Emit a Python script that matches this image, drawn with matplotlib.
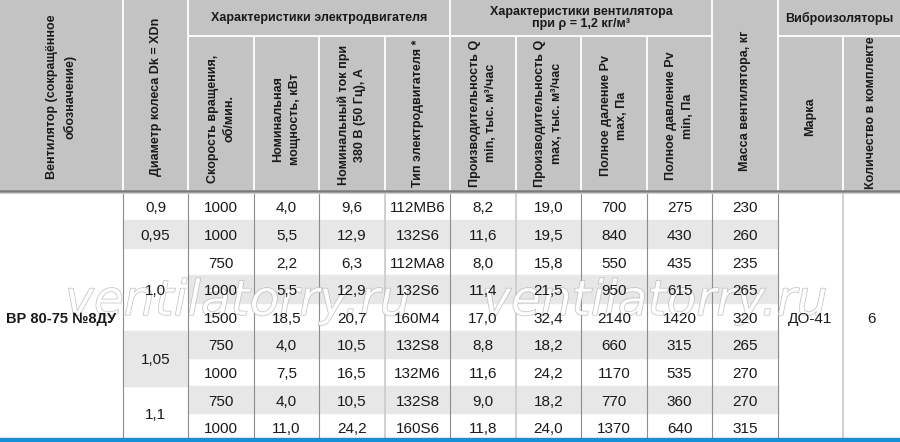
import matplotlib.pyplot as plt
import matplotlib.patheffects as pe
from matplotlib import font_manager
from matplotlib.patches import Rectangle

# ---- table data ----
fan_name = 'ВР 80-75 №8ДУ'
diam_labels = ['0,9', '0,95', '1,0', '1,05', '1,1']
diam_spans = [1, 1, 3, 2, 2]
speed = [1000, 1000, 750, 1000, 1500, 750, 1000, 750, 1000]
power = [4.0, 5.5, 2.2, 5.5, 18.5, 4.0, 7.5, 4.0, 11.0]
current = [9.6, 12.9, 6.3, 12.9, 20.7, 10.5, 16.5, 10.5, 24.2]
motor = ['112MB6', '132S6', '112MA8', '132S6', '160M4', '132S8', '132M6', '132S8', '160S6']
q_min = [8.2, 11.6, 8.0, 11.4, 17.0, 8.8, 11.6, 9.0, 11.8]
q_max = [19.0, 19.5, 15.8, 21.5, 32.4, 18.2, 24.2, 18.2, 24.0]
pv_max = [700, 840, 550, 950, 2140, 660, 1170, 770, 1370]
pv_min = [275, 430, 435, 615, 1420, 315, 535, 360, 640]
mass = [230, 260, 235, 265, 320, 265, 270, 270, 315]
iso_mark = 'ДО-41'
iso_count = 6

col_headers = ['Вентилятор (сокращённое\nобозначение)',
               'Диаметр колеса Dk = XDn',
               'Скорость вращения,\nоб/мин.',
               'Номинальная\nмощность, кВт',
               'Номинальный ток при\n380 В (50 Гц), А',
               'Тип электродвигателя *',
               'Производительность Q\nmin, тыс. м³/час',
               'Производительность Q\nmax, тыс. м³/час',
               'Полное даление Pv\nmax, Па',
               'Полное давление Pv\nmin, Па',
               'Масса вентилятора, кг',
               'Марка',
               'Количество в комплекте']
group_headers = [('Характеристики электродвигателя', 2, 6),
                 ('Характеристики вентилятора\nпри ρ = 1,2 кг/м³', 6, 10),
                 ('Виброизоляторы', 11, 13)]


def fmt(v):
    return f'{v:.1f}'.replace('.', ',')


# ---- fonts ----
names = {f.name for f in font_manager.fontManager.ttflist}
if 'Liberation Sans Narrow' in names:
    narrow, hfs, dfs, nfs = 'Liberation Sans Narrow', 10.2, 11.5, 11.5
else:
    narrow, hfs, dfs, nfs = 'Liberation Sans', 9.0, 11.0, 10.5

# ---- layout (pixels) ----
edges = [0, 123, 188, 254, 319, 385, 450, 516, 581, 647, 712, 778, 843, 900]
hdr_bot, sub_y = 190, 36
head_yc = [97, 97, 119, 119, 115, 113, 113, 113, 116, 116, 101, 117, 113]
row_top, row_h = 192.5, 27.6
n_rows = len(speed)

head_grey = '#c3c3c3'
stripe = '#e7e7e7'
txt = '#1a1a1a'

fig = plt.figure(figsize=(9, 4.42), dpi=100)
ax = fig.add_axes([0, 0, 1, 1])
ax.set_xlim(0, 900)
ax.set_ylim(442, 0)
ax.axis('off')

# header background
ax.add_patch(Rectangle((0, 0), 900, hdr_bot, color=head_grey, zorder=0))

# stripes
for r in range(n_rows):
    if r % 2 == 1:
        ax.add_patch(Rectangle((edges[2], row_top + r * row_h), edges[11] - edges[2], row_h,
                               color=stripe, zorder=0))
start = 0
for g, span in enumerate(diam_spans):
    if g % 2 == 1:
        ax.add_patch(Rectangle((edges[1], row_top + start * row_h), edges[2] - edges[1],
                               span * row_h, color=stripe, zorder=0))
    start += span

# header separators (white)
for i, x in enumerate(edges[1:-1], start=1):
    grouped_inner = i in (3, 4, 5, 7, 8, 9, 12)
    ax.plot([x, x], [sub_y if grouped_inner else 0, hdr_bot], color='white', lw=1.3, zorder=1)
for _, c0, c1 in group_headers:
    ax.plot([edges[c0], edges[c1]], [sub_y, sub_y], color='white', lw=1.3, zorder=1)

# header bottom rule
ax.plot([0, 900], [191, 191], color='#7a7a7a', lw=1.8, zorder=3)
ax.plot([0, 900], [193.2, 193.2], color='#cfcfcf', lw=0.8, zorder=3)

# data vertical lines
light_cols = (385, 516, 843)
for x in edges[1:-1]:
    light = x in light_cols
    ax.plot([x, x], [193, 440], color='#cdcdcd' if light else '#8c8c8c',
            lw=1.3 if light else 0.8, zorder=1)

# blue bottom band
ax.add_patch(Rectangle((0, 438), 900, 4, color='#1490d8', zorder=4))

# watermark
for wx in (238, 655):
    ax.text(wx, 315, 'ventilatorry.ru', fontsize=35, style='italic', family='DejaVu Sans',
            color='white', alpha=0.8, ha='center', va='baseline', zorder=2,
            path_effects=[pe.Stroke(linewidth=0.8, foreground='#aaaaaa'), pe.Normal()])

# header texts
for c, label in enumerate(col_headers):
    xc = (edges[c] + edges[c + 1]) / 2
    ax.text(xc, head_yc[c], label, rotation=90, ha='center', va='center',
            multialignment='center', family=narrow, fontweight='bold', fontsize=hfs,
            color=txt, linespacing=1.5, zorder=5)
for label, c0, c1 in group_headers:
    xc = (edges[c0] + edges[c1]) / 2
    ax.text(xc, sub_y / 2, label, ha='center', va='center', multialignment='center',
            family=narrow, fontweight='bold', fontsize=hfs, color=txt, linespacing=1.1,
            zorder=5)


def cell(col, r0, span, s, **kw):
    xc = (edges[col] + edges[col + 1]) / 2
    yc = row_top + (r0 + span / 2) * row_h + 2
    kw.setdefault('fontsize', dfs)
    ax.text(xc, yc, s, ha='center', va='center', family=narrow,
            color=txt, zorder=5, **kw)


cell(0, 0, n_rows, fan_name, fontweight='bold', fontsize=nfs)
start = 0
for lab, span in zip(diam_labels, diam_spans):
    cell(1, start, span, lab)
    start += span
columns = [[str(v) for v in speed], [fmt(v) for v in power], [fmt(v) for v in current],
           motor, [fmt(v) for v in q_min], [fmt(v) for v in q_max],
           [str(v) for v in pv_max], [str(v) for v in pv_min], [str(v) for v in mass]]
for j, vals in enumerate(columns):
    for r, s in enumerate(vals):
        cell(j + 2, r, 1, s)
cell(11, 0, n_rows, iso_mark)
cell(12, 0, n_rows, str(iso_count))

fig.savefig('out.png', dpi=100)
